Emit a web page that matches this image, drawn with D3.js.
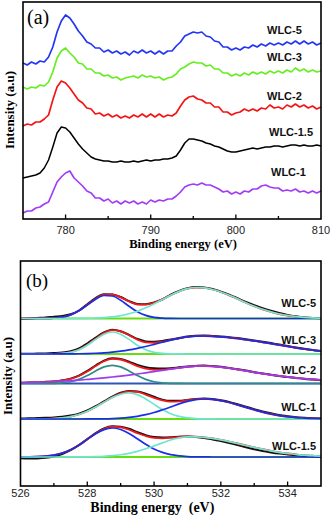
<!DOCTYPE html>
<html><head><meta charset="utf-8">
<script src="https://cdn.jsdelivr.net/npm/d3@7"></script>
<style>body{margin:0;background:#fff}svg{display:block}</style>
</head><body>
<svg id="c" width="331" height="515"></svg>
<script>
// ---------- Panel (a): Cu 2p-like spectra, 775–810 eV, 0.5 eV sampling ----------
const energyStartA = 775, energyStepA = 0.5;
const seriesA = ["WLC-5", "WLC-3", "WLC-2", "WLC-1.5", "WLC-1"];
const colorsA = ["#2436f5", "#66ee22", "#f41414", "#000000", "#a33cf5"];
const wlc5A = [156,154,157,155,158,157,162,172,187,198,204,201,195,188,183,177,175,171,171,167,169,166,168,165,167,164,168,166,169,166,168,165,168,165,168,168,173,177,183,185,187,186,187,183,182,178,177,172,172,169,171,169,172,171,174,172,175,173,176,174,176,174,177,175,178,175,178,175,177,174,176];
const wlc3A = [132,130,132,131,134,133,137,147,161,168,171,166,162,156,155,150,150,146,146,143,144,141,142,139,141,142,143,141,144,142,143,141,142,139,141,142,145,150,152,155,157,156,156,153,154,150,150,146,146,143,145,143,146,144,147,145,147,145,148,146,148,146,149,147,151,148,150,147,149,147,148];
const wlc2A = [93,95,94,97,97,100,104,119,132,138,136,131,125,119,116,111,110,105,106,103,105,102,104,101,103,101,104,102,105,102,105,102,105,102,104,103,106,113,119,122,123,120,119,116,116,112,112,107,107,104,106,107,110,108,110,108,111,110,114,111,112,110,114,112,115,112,114,111,113,110,112];
const wlc15A = [41,42,43,44,46,51,59,72,86,92,91,87,81,75,70,66,62,60,59,58,58,57,57,58,57,57,58,57,58,59,58,59,59,60,60,61,63,69,76,80,80,79,78,76,75,73,72,70,68,67,67,68,69,70,71,70,71,72,72,73,73,72,73,74,74,73,74,73,73,74,73];
const wlc1A = [6,8,8,11,12,15,17,27,37,42,46,48,41,37,33,28,26,21,21,18,20,16,18,15,18,16,18,15,17,15,19,17,19,18,20,20,23,27,32,34,35,34,36,34,34,32,30,27,28,25,27,25,28,27,30,30,33,34,32,31,31,28,29,28,30,27,28,26,28,26,28];
const ticksA = [780, 790, 800, 810];
const minorTicksA = [785, 795, 805];

// ---------- Panel (b): O 1s fits, 526–535 eV, 0.25 eV sampling ----------
const energyStartB = 526, energyStepB = 0.25;
const seriesB = ["WLC-5", "WLC-3", "WLC-2", "WLC-1", "WLC-1.5"];
const offsetsB = [167.5, 132, 102.5, 67, 29];
const data5 = [-0.5,0,0.5,1.0,1.8,2.5,4.2,8.0,14.2,20.5,24.3,24.0,21.5,17.4,14.6,14.3,16.0,19.0,23.8,27.5,30.2,31.5,31.0,29.6,26.8,23.9,20.3,16.5,13.2,10.3,7.8,5.6,3.6,2.2,1.1,0.5,0.3];
const compA5 = [0,0,0.03,0.12,0.45,1.4,3.6,7.7,13.4,19.3,23.0,22.5,18.2,12.2,6.7,3.1,1.1,0.35,0.09,0,0,0,0,0,0,0,0,0,0,0,0,0,0,0,0,0,0];
const compB5 = [0,0,0,0,0.01,0.02,0.05,0.12,0.25,0.5,0.95,1.7,2.95,4.8,7.3,10.7,14.6,19.0,23.3,27.1,29.8,31.0,30.6,29.0,26.5,23.2,19.6,15.8,12.3,9.2,6.6,4.5,3.0,1.9,1.2,0.7,0.4];
const data3 = [0.3,0.2,0.5,0.6,0.9,1.4,2.8,5.6,10.5,16.4,21.6,24.3,22.8,19.2,15.1,12.6,12.2,13.0,14.6,16.0,17.5,18.3,18.4,18.0,17.5,16.8,15.9,14.8,13.6,12.3,10.9,9.4,8.0,6.5,5.2,4.0,3.1];
const compA3 = [0,0,0,0.03,0.14,0.53,1.67,4.2,8.7,14.6,19.8,22.0,19.8,14.6,8.7,4.2,1.67,0.53,0.14,0.03,0,0,0,0,0,0,0,0,0,0,0,0,0,0,0,0,0];
const compB3 = [0,0,0.01,0.02,0.04,0.07,0.14,0.25,0.44,0.75,1.2,1.9,2.85,4.1,5.7,7.5,9.6,11.8,13.9,15.7,17.1,17.9,18.0,17.7,17.2,16.4,15.5,14.3,13.1,11.7,10.4,9.0,7.7,6.2,5.0,3.9,3.0];
const data2 = [0.5,1.0,1.0,1.7,2.0,3.2,4.9,7.9,12.6,18.0,22.9,25.3,24.5,21.9,18.6,16.3,15.2,14.9,15.3,16.2,17.1,17.6,17.9,17.4,16.8,15.4,14.3,12.9,11.3,10.1,8.8,7.5,6.4,5.6,4.6,3.9,3.3];
const compA2 = [0,0,0,0.05,0.19,0.64,1.79,4.1,7.9,12.6,16.6,18.2,16.6,12.6,7.9,4.1,1.79,0.64,0.19,0.05,0,0,0,0,0,0,0,0,0,0,0,0,0,0,0,0,0];
const compB2 = [0.8,1.0,1.2,1.5,1.9,2.3,2.8,3.4,4.1,4.8,5.6,6.5,7.4,8.4,9.5,10.7,11.9,13.1,14.4,15.6,16.7,17.4,17.5,17.2,16.4,15.3,14.0,12.6,11.2,9.9,8.7,7.6,6.6,5.7,4.9,4.2,3.6];
const data1 = [0.5,0.7,0.9,1.2,1.6,2.3,3.4,5.3,8.5,12.8,17.6,22.3,26.2,28.1,27.6,25.3,22.2,19.4,18.2,18.2,19.1,20.1,20.4,20.0,18.8,17.1,14.7,12.3,9.9,7.6,5.7,4.0,2.8,1.8,1.2,0.8,0.5];
const compA1 = [0.01,0.02,0.07,0.2,0.5,1.14,2.4,4.5,7.7,11.9,16.8,21.4,24.8,26.0,24.4,20.1,14.6,9.4,5.3,2.6,1.14,0.44,0.15,0.04,0.01,0,0,0,0,0,0,0,0,0,0,0,0];
const compB1 = [0,0,0,0,0,0,0.01,0.02,0.04,0.1,0.22,0.46,0.88,1.6,2.7,4.3,6.5,9.2,12.1,15.1,17.6,19.4,20.0,19.6,18.3,16.5,14.1,11.6,9.2,6.9,5.0,3.4,2.3,1.4,0.9,0.5,0.3];
const data15 = [-1.2,-1.6,-1.4,-0.8,0.6,3.0,6.8,11.8,17.9,23.9,28.6,30.8,30.3,28.2,24.9,21.8,19.9,19.4,19.7,20.3,20.4,20.0,19.1,17.6,15.9,14.0,11.9,9.8,7.8,6.0,4.6,3.4,2.5,1.7,1.1,0.6,0.3];
const compA15 = [0.03,0.11,0.32,0.83,1.9,3.9,7.2,11.9,17.6,23.2,27.4,29.0,27.5,23.6,18.3,12.8,8.0,4.6,2.3,1.08,0.45,0.17,0.06,0.02,0,0,0,0,0,0,0,0,0,0,0,0,0];
const compB15 = [0,0,0,0,0,0,0.03,0.08,0.17,0.35,0.69,1.28,2.24,3.67,5.64,8.2,11.1,14.1,17.0,19.1,20.2,20.2,19.6,18.6,17.1,15.4,13.5,11.5,9.6,7.8,6.1,4.7,3.5,2.6,1.8,1.3,0.85];
const compColorsB = [["#1a2ee8","#6fe6cf"],["#6fe6cf","#1a2ee8"],["#2e8c84","#9b3cf2"],["#6fe6cf","#1a2ee8"],["#1a2ee8","#6fe6cf"]];
const baseColorsB = ["#66dd11","#66dd11","#2e56b8","#66dd11","#66dd11"];
const ticksB = [526, 528, 530, 532, 534];
const minorTicksB = [527, 529, 531, 533, 535];

const svg = d3.select("#c");
const sans = "'Liberation Sans', Arial, sans-serif";
const serif = "'Liberation Serif', 'Times New Roman', serif";

function frame(g, x, y, ticks, minor, tickY) {
  const [x0, x1] = x.range(), [y0, y1] = y.range();
  g.append("g").selectAll("line").data(ticks.filter(t => t > x.domain()[0] && t < x.domain()[1]))
    .join("line").attr("x1", d => x(d)).attr("x2", d => x(d)).attr("y1", y0).attr("y2", y0 - 4.5)
    .attr("stroke", "#000").attr("stroke-width", 1.3);
  g.append("g").selectAll("line").data(minor.filter(t => t > x.domain()[0] && t < x.domain()[1]))
    .join("line").attr("x1", d => x(d)).attr("x2", d => x(d)).attr("y1", y0).attr("y2", y0 - 3)
    .attr("stroke", "#000").attr("stroke-width", 1.3);
  g.append("g").selectAll("text").data(ticks).join("text")
    .attr("x", d => x(d)).attr("y", tickY).attr("text-anchor", "middle")
    .attr("font-family", sans).attr("font-size", 11).attr("fill", "#222").text(d => d);
  g.append("rect").attr("x", x0).attr("y", y1).attr("width", x1 - x0).attr("height", y0 - y1)
    .attr("fill", "none").attr("stroke", "#000").attr("stroke-width", 1.6);
}

// ---- Panel (a)
const xA = d3.scaleLinear().domain([775, 810]).range([23, 321]);
const yA = d3.scaleLinear().domain([0, 217]).range([219, 2]);
const gA = svg.append("g");
const valsA = [wlc5A, wlc3A, wlc2A, wlc15A, wlc1A];
const lineA = d3.line().x(d => xA(d[0])).y(d => yA(d[1]));
valsA.forEach((vals, i) => {
  const pts = vals.map((v, k) => [energyStartA + k * energyStepA, v]);
  gA.append("path").attr("d", lineA(pts)).attr("fill", "none")
    .attr("stroke", colorsA[i]).attr("stroke-width", i === 3 ? 1.5 : 1.7).attr("stroke-linejoin", "round");
});
frame(gA, xA, yA, ticksA, minorTicksA, 234);
const labelPosA = [[267, 34], [267, 61], [267, 100], [269, 136], [271, 176]];
seriesA.forEach((s, i) => gA.append("text").attr("x", labelPosA[i][0]).attr("y", labelPosA[i][1])
  .attr("font-family", sans).attr("font-weight", "bold").attr("font-size", 11).attr("fill", "#111").text(s));
gA.append("text").attr("x", 27).attr("y", 24).attr("font-family", serif).attr("font-size", 20).text("(a)");
gA.append("text").attr("x", xA(793.8)).attr("y", 248).attr("text-anchor", "middle").attr("font-family", serif)
  .attr("font-weight", "bold").attr("font-size", 12.5).text("Binding energy (eV)");
gA.append("text").attr("transform", "translate(14,110) rotate(-90)").attr("text-anchor", "middle")
  .attr("font-family", serif).attr("font-weight", "bold").attr("font-size", 13).text("Intensity (a.u)");

// ---- Panel (b)
const xB = d3.scaleLinear().domain([526, 535]).range([20.5, 321]);
const yB = d3.scaleLinear().domain([0, 225]).range([486, 261]);
const gB = svg.append("g");
const lineB = d3.line().x(d => xB(d[0])).y(d => yB(d[1])).curve(d3.curveMonotoneX);
const dataB = [data5, data3, data2, data1, data15];
const compAB = [compA5, compA3, compA2, compA1, compA15];
const compBB = [compB5, compB3, compB2, compB1, compB15];
seriesB.forEach((s, i) => {
  const off = offsetsB[i];
  const toPts = arr => arr.map((v, k) => [energyStartB + k * energyStepB, off + v]);
  const env = compAB[i].map((v, k) => v + compBB[i][k]);
  gB.append("path").attr("d", lineB([[526, off], [535, off]])).attr("fill", "none")
    .attr("stroke", baseColorsB[i]).attr("stroke-width", 2.2);
  gB.append("path").attr("d", lineB(toPts(dataB[i]))).attr("fill", "none")
    .attr("stroke", "#111").attr("stroke-width", 2);
  gB.append("path").attr("d", lineB(toPts(env))).attr("fill", "none")
    .attr("stroke", "#f01a1a").attr("stroke-width", 1.8);
  gB.append("path").attr("d", lineB(toPts(compAB[i]))).attr("fill", "none")
    .attr("stroke", compColorsB[i][0]).attr("stroke-width", 1.7);
  gB.append("path").attr("d", lineB(toPts(compBB[i]))).attr("fill", "none")
    .attr("stroke", compColorsB[i][1]).attr("stroke-width", 1.7);
});
frame(gB, xB, yB, ticksB, minorTicksB, 496.5);
const labelPosB = [307, 344, 374, 411, 450];
seriesB.forEach((s, i) => gB.append("text").attr("x", 316).attr("y", labelPosB[i]).attr("text-anchor", "end")
  .attr("font-family", sans).attr("font-weight", "bold").attr("font-size", 11).attr("fill", "#111").text(s));
gB.append("text").attr("x", 26).attr("y", 287).attr("font-family", serif).attr("font-size", 19).text("(b)");
gB.append("text").attr("x", xB(529.95)).attr("y", 512).attr("text-anchor", "middle").attr("font-family", serif)
  .attr("font-weight", "bold").attr("font-size", 14).attr("xml:space", "preserve").text("Binding energy  (eV)");
gB.append("text").attr("transform", "translate(12,376) rotate(-90)").attr("text-anchor", "middle")
  .attr("font-family", serif).attr("font-weight", "bold").attr("font-size", 13).text("Intensity  (a.u)");
</script>
</body></html>
